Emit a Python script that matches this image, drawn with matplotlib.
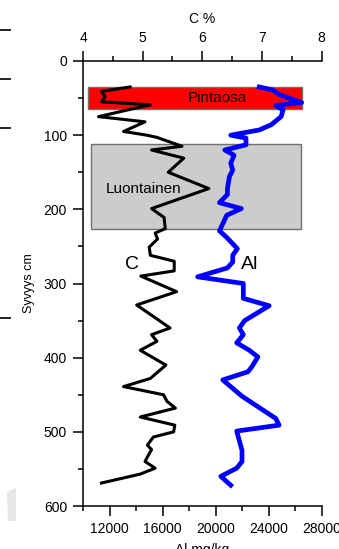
import matplotlib
matplotlib.use("Agg")
import matplotlib.pyplot as plt
from matplotlib.patches import Rectangle, Polygon
from matplotlib.lines import Line2D
from matplotlib.ticker import MultipleLocator, FixedLocator

plt.rcParams['font.family'] = ['Liberation Sans', 'DejaVu Sans']

# ---- data ----
c_depth = [35, 41, 48, 55, 59, 75, 82, 95, 100, 103, 115, 120, 131, 150, 172,
           199, 211, 226, 232, 240, 251, 262, 270, 283, 290, 311, 329, 360,
           369, 378, 390, 410, 428, 439, 450, 459, 468, 480, 491, 500, 507,
           518, 524, 531, 540, 549, 557, 569]
c_pct = [4.79, 4.31, 4.37, 4.31, 5.13, 4.26, 5.04, 4.68, 5.07, 5.24, 5.66, 5.15,
         5.69, 5.43, 6.11, 5.15, 5.36, 5.38, 5.21, 5.25, 5.11, 5.13, 5.53, 5.53,
         4.97, 5.57, 4.90, 5.46, 5.15, 5.24, 4.96, 5.39, 5.13, 4.68, 5.35, 5.41,
         5.55, 4.96, 5.54, 5.52, 5.18, 5.08, 5.15, 5.10, 5.04, 5.21, 4.96, 4.31]

al_depth = [35, 39, 46, 56, 60, 66, 75, 86, 93, 100, 104, 113, 120, 127, 138,
            147, 156, 172, 180, 191, 199, 208, 229, 238, 253, 262, 271, 279,
            291, 300, 320, 330, 350, 360, 369, 380, 390, 399, 412, 419, 430,
            452, 482, 491, 499, 525, 540, 549, 560, 572]
al_mgkg = [23300, 24300, 24900, 26500, 24550, 25100, 24950, 24200, 23300, 21150,
           22300, 22300, 20700, 21400, 21150, 21300, 21050, 20900, 20900, 20300,
           21950, 20850, 20300, 20850, 21650, 21300, 21300, 20900, 18650, 22100,
           22100, 24050, 22200, 21800, 22100, 21600, 22550, 23200, 22750, 22450,
           20550, 22000, 24550, 24800, 21600, 22000, 22000, 21600, 20400, 21150]

# zones: (label, depth top, depth bottom, C left, C right)
zone_names = ["Pintaosa", "Luontainen"]
zone_top = [35, 112]
zone_bottom = [65, 226]
zone_cleft = [4.08, 4.13]
zone_cright = [7.68, 7.65]
zone_colors = ["#ff0000", "#cccccc"]

c_ticks = [4, 5, 6, 7, 8]
al_ticks = [12000, 16000, 20000, 24000, 28000]
depth_ticks = [0, 100, 200, 300, 400, 500, 600]

# ---- figure ----
W, H = 339, 549
fig = plt.figure(figsize=(W / 100, H / 100), dpi=100)
L, R, T, B = 83, 321.5, 61, 506
ax = fig.add_axes([L / W, 1 - B / H, (R - L) / W, (B - T) / H])
ax2 = ax.twiny()

ax.set_ylim(600, 0)
ax.set_xlim(10000, 28000)
ax2.set_xlim(4, 8)

# zones drawn on bottom axes using C coordinates
for name, t, b, cl, cr, col in zip(zone_names, zone_top, zone_bottom,
                                   zone_cleft, zone_cright, zone_colors):
    r = Rectangle((cl, t), cr - cl, b - t, transform=ax2.transData,
                  facecolor=col, edgecolor="#707070", linewidth=1.0, zorder=1)
    ax.add_patch(r)

ax.text(6.25, 50, "Pintaosa", transform=ax2.transData, fontsize=11,
        ha="center", va="center", zorder=2)
ax.text(5.02, 173, "Luontainen", transform=ax2.transData, fontsize=11,
        ha="center", va="center", zorder=2)

ax.plot(al_mgkg, al_depth, color="#0000ff", lw=3.4, zorder=3,
        solid_joinstyle="round")
ax2.plot(c_pct, c_depth, color="black", lw=2.2, zorder=3,
         solid_joinstyle="round")

ax.text(4.82, 275, "C", transform=ax2.transData, fontsize=14,
        ha="center", va="center", zorder=4)
ax.text(6.80, 275, "Al", transform=ax2.transData, fontsize=14,
        ha="center", va="center", zorder=4)

# ticks
ax.xaxis.set_major_locator(FixedLocator(al_ticks))
ax.xaxis.set_minor_locator(FixedLocator([10000, 14000, 18000, 22000, 26000]))
ax.yaxis.set_major_locator(FixedLocator(depth_ticks))
ax.yaxis.set_minor_locator(MultipleLocator(50))
ax2.xaxis.set_major_locator(FixedLocator(c_ticks))
ax2.xaxis.set_minor_locator(MultipleLocator(0.5))

for a in (ax, ax2):
    a.tick_params(which="major", length=7.5, width=1.1, labelsize=10,
                  pad=4, direction="out")
    a.tick_params(which="minor", length=3.6, width=1.1, direction="out")
    a.spines["right"].set_visible(False)
    for s in a.spines.values():
        s.set_linewidth(1.1)
ax.spines["top"].set_visible(False)
ax2.spines["bottom"].set_visible(False)
ax2.spines["left"].set_visible(False)
ax.tick_params(axis="x", which="both", top=False)
ax.tick_params(axis="y", which="both", right=False)

ax.set_xlabel("Al mg/kg", fontsize=10, labelpad=5)
ax2.set_xlabel("C %", fontsize=10, labelpad=6)
ax.set_ylabel("Syvyys cm", fontsize=9, labelpad=6)

# stray marks from neighbouring panel at the left edge
for yp in [30, 79, 128, 318]:
    fig.add_artist(Line2D([0, 10 / W], [1 - yp / H, 1 - yp / H],
                          color="#222222", lw=1.4))
fig.add_artist(Polygon([[7 / W, 1 - 492 / H], [16 / W, 1 - 488 / H],
                        [16 / W, 1 - 521 / H], [8 / W, 1 - 521 / H]],
                       closed=True, facecolor="#e6e6e6", edgecolor="none"))

fig.savefig("out.png", dpi=100)
